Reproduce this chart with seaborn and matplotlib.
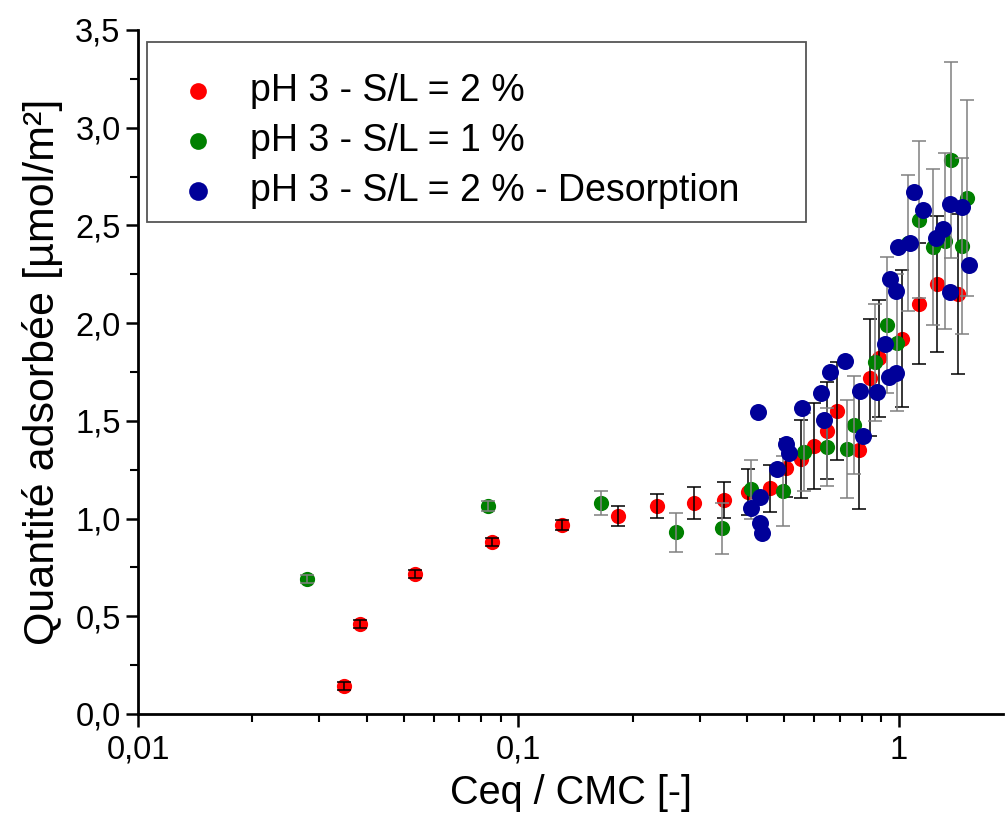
import numpy as np
import pandas as pd
import matplotlib
matplotlib.use("Agg")
import matplotlib.pyplot as plt
import matplotlib.ticker as mticker
from matplotlib.patches import Rectangle
import seaborn as sns

# données
x_red = [0.0348, 0.0384, 0.0536, 0.0855, 0.1306, 0.183, 0.232, 0.29, 0.348, 0.401,
         0.458, 0.504, 0.552, 0.597, 0.647, 0.69, 0.785, 0.839, 0.885, 1.018,
         1.13, 1.26, 1.43]
y_red = [0.143, 0.46, 0.717, 0.88, 0.967, 1.013, 1.064, 1.08, 1.095, 1.136,
         1.156, 1.259, 1.305, 1.37, 1.45, 1.55, 1.35, 1.72, 1.82, 1.92,
         2.10, 2.20, 2.15]
e_red = [0.02, 0.02, 0.02, 0.02, 0.025, 0.05, 0.06, 0.08, 0.09, 0.12,
         0.12, 0.15, 0.2, 0.22, 0.25, 0.25, 0.3, 0.3, 0.3, 0.35,
         0.31, 0.35, 0.41]

x_green = [0.0279, 0.0834, 0.165, 0.26, 0.344, 0.41, 0.495, 0.562, 0.647, 0.73,
           0.762, 0.865, 0.93, 0.99, 1.06, 1.13, 1.23, 1.32, 1.37, 1.47, 1.51]
y_green = [0.69, 1.064, 1.08, 0.93, 0.95, 1.15, 1.14, 1.34, 1.366, 1.356,
           1.48, 1.80, 1.99, 1.90, 2.41, 2.53, 2.39, 2.42, 2.835, 2.395, 2.64]
e_green = [0.02, 0.025, 0.06, 0.1, 0.13, 0.15, 0.18, 0.2, 0.2, 0.25,
           0.25, 0.3, 0.35, 0.35, 0.35, 0.4, 0.4, 0.45, 0.5, 0.45, 0.5]

x_blue = [0.426, 0.41, 0.433, 0.433, 0.436, 0.478, 0.504, 0.514, 0.556, 0.624,
          0.635, 0.658, 0.721, 0.789, 0.804, 0.875, 0.919, 0.942, 0.982, 0.947,
          0.982, 0.994, 1.07, 1.095, 1.157, 1.25, 1.31, 1.36, 1.36, 1.47, 1.53]
y_blue = [1.545, 1.054, 1.11, 0.977, 0.926, 1.254, 1.38, 1.336, 1.566, 1.64,
          1.505, 1.75, 1.806, 1.653, 1.42, 1.648, 1.894, 1.725, 1.745, 2.226,
          2.165, 2.39, 2.41, 2.67, 2.58, 2.436, 2.48, 2.61, 2.16, 2.595, 2.30]

labels = ["pH 3 - S/L = 2 %", "pH 3 - S/L = 1 %", "pH 3 - S/L = 2 % - Desorption"]
colors = ["#ff0000", "#008000", "#000099"]

df = pd.concat([
    pd.DataFrame({"x": x_red, "y": y_red, "serie": labels[0]}),
    pd.DataFrame({"x": x_green, "y": y_green, "serie": labels[1]}),
    pd.DataFrame({"x": x_blue, "y": y_blue, "serie": labels[2]}),
])

sns.set_style("ticks")
plt.rcParams["font.family"] = ["Liberation Sans", "DejaVu Sans"]

fig = plt.figure(figsize=(10.05, 8.25), dpi=100)
ax = fig.add_axes([138 / 1005, 111 / 825, 865 / 1005, 684 / 825])

# rouge
sns.scatterplot(data=df[df.serie == labels[0]], x="x", y="y", color=colors[0],
                s=120, linewidth=0, label=labels[0], ax=ax, zorder=2)
ax.errorbar(x_red, y_red, yerr=e_red, fmt="none", ecolor="black",
            elinewidth=1.1, capsize=5, capthick=1.1, zorder=3)
# vert
sns.scatterplot(data=df[df.serie == labels[1]], x="x", y="y", color=colors[1],
                s=120, linewidth=0, label=labels[1], ax=ax, zorder=4)
ax.errorbar(x_green, y_green, yerr=e_green, fmt="none", ecolor="#808080",
            elinewidth=1.1, capsize=5, capthick=1.1, zorder=5)
# bleu
sns.scatterplot(data=df[df.serie == labels[2]], x="x", y="y", color=colors[2],
                s=150, linewidth=0, label=labels[2], ax=ax, zorder=6)

ax.set_xscale("log")
ax.set_xlim(0.01, 1.88)
ax.set_ylim(0, 3.5)

ax.xaxis.set_major_locator(mticker.FixedLocator([0.01, 0.1, 1]))
ax.xaxis.set_major_formatter(mticker.FixedFormatter(["0,01", "0,1", "1"]))
ax.xaxis.set_minor_locator(mticker.LogLocator(base=10, subs=np.arange(2, 10)))
ax.xaxis.set_minor_formatter(mticker.NullFormatter())
ax.yaxis.set_major_locator(mticker.MultipleLocator(0.5))
ax.yaxis.set_minor_locator(mticker.MultipleLocator(0.25))
ax.yaxis.set_major_formatter(mticker.FuncFormatter(lambda v, p: f"{v:.1f}".replace(".", ",")))

ax.tick_params(axis="both", which="major", direction="out", length=9, width=1.8,
               labelsize=23.5, color="black", labelcolor="black")
ax.tick_params(axis="both", which="minor", direction="out", length=6, width=1.5,
               color="black")
ax.tick_params(axis="x", which="major", pad=6)

for side in ["left", "bottom"]:
    ax.spines[side].set_linewidth(2)
    ax.spines[side].set_color("black")
sns.despine(ax=ax)

ax.set_xlabel("Ceq / CMC [-]", fontsize=28.5, labelpad=6, color="black")
ax.set_ylabel("Quantité adsorbée [µmol/m²]", fontsize=31, labelpad=9, color="black")

# cadre de la légende
ax.add_patch(Rectangle((0.0104, 0.719), 0.762, 0.263, transform=ax.transAxes,
                       facecolor="white", edgecolor="#555555", linewidth=1.3,
                       zorder=10))
leg = ax.legend(loc="upper left", bbox_to_anchor=(0.0474, 0.937), fontsize=27,
                frameon=False, markerscale=1.1, handlelength=1.0,
                handletextpad=0.9, labelspacing=0.37, borderpad=0,
                borderaxespad=0)
leg.set_zorder(11)
for t in leg.get_texts():
    t.set_color("black")

fig.savefig("out.png", dpi=100)
